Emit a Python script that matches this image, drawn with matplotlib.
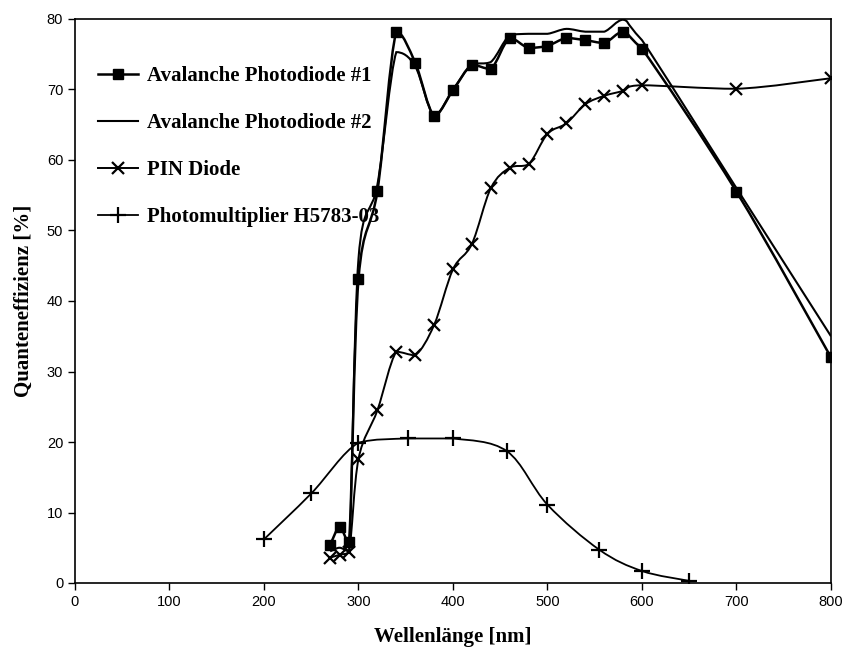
import numpy as np
import matplotlib.pyplot as plt
from matplotlib.path import Path
from matplotlib.patches import PathPatch
from matplotlib.lines import Line2D

# wavelengths [nm] and quantum efficiency [%]
wl_apd = [270, 280, 290, 300, 320, 340, 360, 380, 400, 420, 440, 460, 480,
          500, 520, 540, 560, 580, 600, 700, 800]
qe_apd1 = [5.4, 7.9, 5.8, 43.1, 55.6, 78.2, 73.8, 66.3, 69.9, 73.5, 72.9, 77.3,
           75.9, 76.2, 77.3, 77.0, 76.6, 78.2, 75.8, 55.5, 32.0]
qe_apd2 = [4.5, 5.0, 4.5, 46.0, 56.5, 75.3, 73.3, 66.3, 70.0, 73.5, 73.9, 77.7,
           77.9, 77.9, 78.6, 78.2, 78.2, 79.9, 77.0, 56.0, 35.0]

wl_pin = [270, 280, 290, 300, 320, 340, 360, 380, 400, 420, 440, 460, 480,
          500, 520, 540, 560, 580, 600, 700, 800]
qe_pin = [3.6, 4.0, 4.4, 17.6, 24.5, 32.8, 32.3, 36.6, 44.5, 48.1, 56.0, 58.9,
          59.4, 63.7, 65.2, 67.9, 69.1, 69.8, 70.6, 70.1, 71.6]

wl_pmt = [200, 250, 300, 352, 400, 457, 500, 555, 600, 650]
qe_pmt = [6.2, 12.7, 19.9, 20.5, 20.5, 18.7, 11.1, 4.7, 1.7, 0.3]

labels = ['Avalanche Photodiode #1', 'Avalanche Photodiode #2',
          'PIN Diode', 'Photomultiplier H5783-03']


def smooth_path(x, y):
    # smoothed line as cubic bezier segments, control points kept
    # inside each segment's y range so the curve does not overshoot
    pts = np.column_stack([x, y]).astype(float)
    n = len(pts)
    verts, codes = [pts[0]], [Path.MOVETO]
    for i in range(n - 1):
        p0, p1 = pts[max(i - 1, 0)], pts[i]
        p2, p3 = pts[i + 1], pts[min(i + 2, n - 1)]
        c1 = p1 + (p2 - p0) / 6
        c2 = p2 - (p3 - p1) / 6
        lo, hi = min(p1[1], p2[1]), max(p1[1], p2[1])
        c1[1] = np.clip(c1[1], lo, hi)
        c2[1] = np.clip(c2[1], lo, hi)
        verts += [c1, c2, p2]
        codes += [Path.CURVE4] * 3
    return Path(verts, codes)


fig = plt.figure(figsize=(8.45, 6.5), dpi=100)
ax = fig.add_axes([75/845, 67/650, 756/845, 564/650])

serif = ['Liberation Serif', 'DejaVu Serif']
sans = ['Liberation Sans', 'DejaVu Sans']

styles = [
    (wl_apd, qe_apd1, dict(marker='s', ms=7, mfc='black', mec='black'), 1.8),
    (wl_apd, qe_apd2, dict(marker=None), 1.5),
    (wl_pin, qe_pin, dict(marker='x', ms=8, mew=1.6, mec='black'), 1.4),
    (wl_pmt, qe_pmt, dict(marker='+', ms=11, mew=1.6, mec='black'), 1.3),
]

handles = []
for (x, y, mk, lw), lab in zip(styles, labels):
    ax.add_patch(PathPatch(smooth_path(x, y), fill=False, ec='black', lw=lw,
                           zorder=2))
    if mk['marker'] is not None:
        ax.plot(x, y, ls='none', zorder=3, **mk)
    handles.append(Line2D([], [], color='black', lw=lw, **mk))

ax.set_xlim(0, 800)
ax.set_ylim(0, 80)
ax.set_xticks(range(0, 801, 100))
ax.set_yticks(range(0, 81, 10))
ax.tick_params(direction='out', length=5, width=1, labelsize=10.5)
for t in ax.get_xticklabels() + ax.get_yticklabels():
    t.set_family(sans)
for s in ax.spines.values():
    s.set_linewidth(1.2)

ax.set_xlabel('Wellenlänge [nm]', family=serif, fontsize=15,
              fontweight='bold', labelpad=13)
ax.set_ylabel('Quanteneffizienz [%]', family=serif, fontsize=15,
              fontweight='bold', labelpad=9)

leg = ax.legend(handles, labels, loc='upper left', frameon=False,
                bbox_to_anchor=(0.006, 0.95), handlelength=1.9,
                handletextpad=0.45, labelspacing=1.3,
                prop=dict(family=serif, weight='bold', size=15))

fig.savefig('out.png', dpi=100, facecolor='white')
